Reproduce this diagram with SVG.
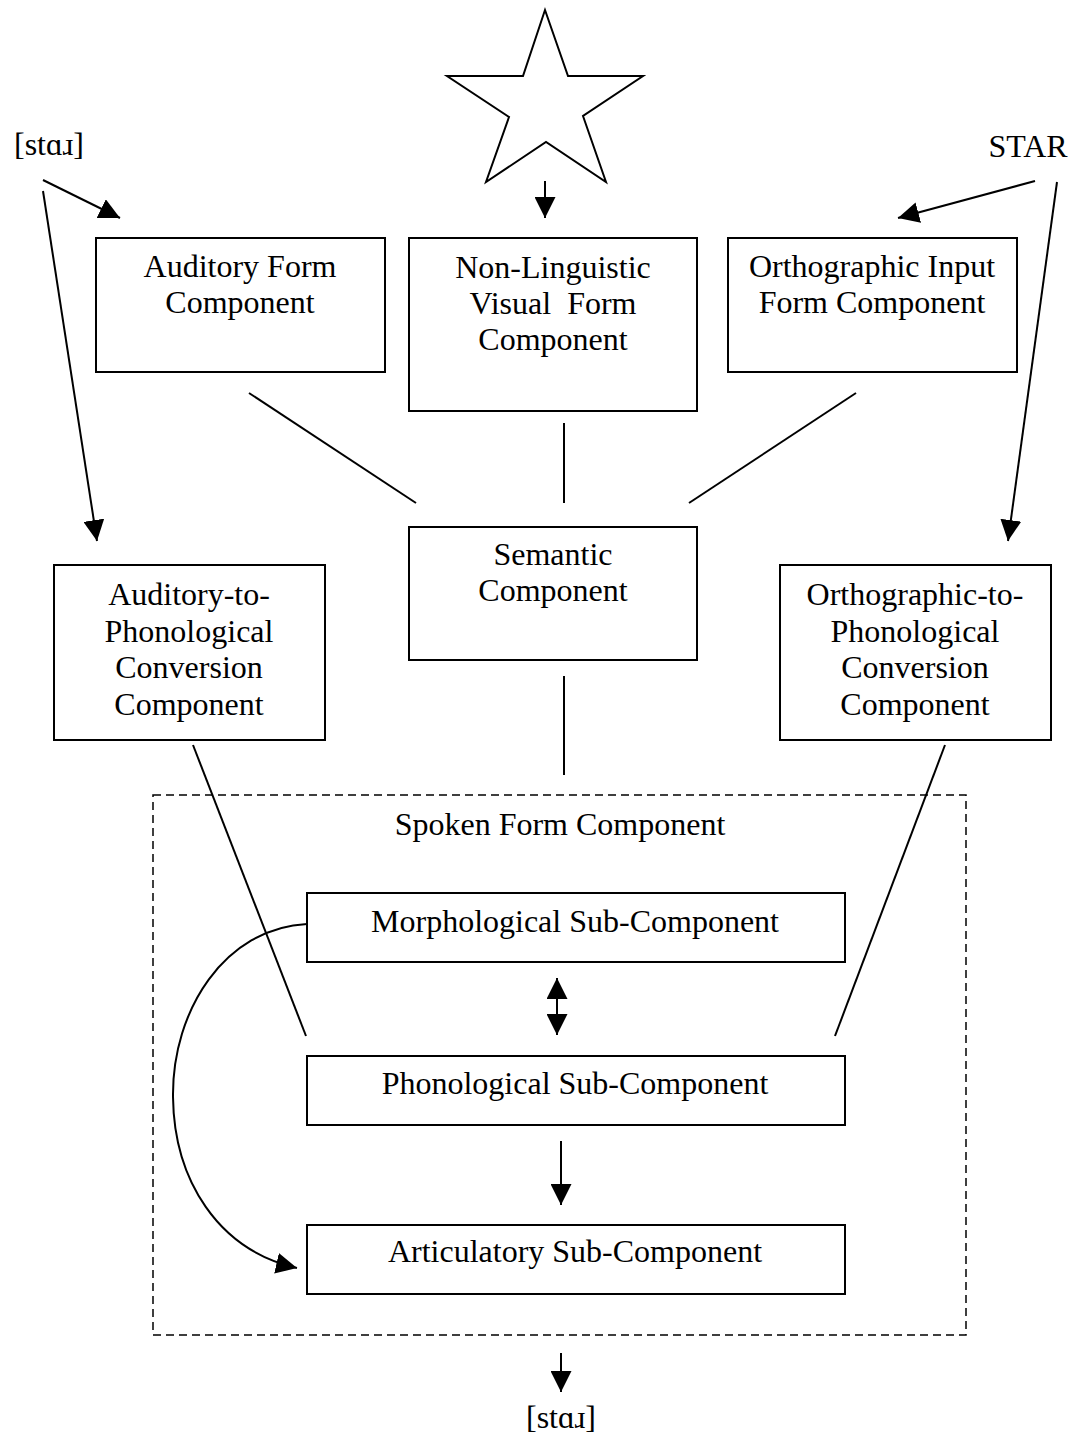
<svg xmlns="http://www.w3.org/2000/svg" width="1078" height="1439" viewBox="0 0 1078 1439">
<style>
text{font-family:"Liberation Serif","Times New Roman",serif;font-size:32px;fill:#000;text-anchor:middle}
.box{fill:#fff;stroke:#000;stroke-width:2}
.ln{fill:none;stroke:#000;stroke-width:2}
.arr{fill:none;stroke:#000;stroke-width:2;marker-end:url(#ah)}
</style>
<defs>
<marker id="ah" viewBox="0 0 20 20" refX="20" refY="10" markerWidth="21" markerHeight="21" markerUnits="userSpaceOnUse" orient="auto-start-reverse">
<path d="M0,0 L20,10 L0,20 z" fill="#000"/>
</marker>
</defs>

<g id="inputs">
<text x="49" y="155">[stɑɹ]</text>
<text x="1028" y="157">STAR</text>
<polygon id="star" points="545,10 568,76 643,76 583,116 606,182 546,142 486,182 509,117 447,76 523,76" fill="#fff" stroke="#000" stroke-width="2"/>
</g>

<g id="connectors">
<line class="arr" x1="43" y1="180" x2="120" y2="218"/>
<line class="arr" x1="43" y1="191" x2="97" y2="541"/>
<line class="arr" x1="1035" y1="181" x2="898" y2="218"/>
<line class="arr" x1="1057" y1="182" x2="1008" y2="541"/>
<line class="arr" x1="545" y1="181" x2="545" y2="218"/>
<line class="ln" x1="249" y1="393" x2="416" y2="503"/>
<line class="ln" x1="564" y1="423" x2="564" y2="503"/>
<line class="ln" x1="856" y1="393" x2="689" y2="503"/>
<line class="ln" x1="564" y1="676" x2="564" y2="775"/>
<line class="ln" x1="193" y1="745" x2="306" y2="1036"/>
<line class="ln" x1="945" y1="745" x2="835" y2="1036"/>
<line class="arr" x1="557" y1="978" x2="557" y2="1035" style="marker-start:url(#ah)"/>
<line class="arr" x1="561" y1="1141" x2="561" y2="1205"/>
<line class="arr" x1="561" y1="1353" x2="561" y2="1392"/>
<path class="arr" d="M307,924 C225,928 172,1010 173,1097 C174,1180 218,1250 297,1268"/>
</g>

<g id="auditory-form">
<rect class="box" x="96" y="238" width="289" height="134"/>
<text x="240" y="277">Auditory Form</text>
<text x="240" y="313">Component</text>
</g>
<g id="nonling-visual">
<rect class="box" x="409" y="238" width="288" height="173"/>
<text x="553" y="278">Non-Linguistic</text>
<text x="553" y="314" xml:space="preserve">Visual  Form</text>
<text x="553" y="350">Component</text>
</g>
<g id="orthographic-input">
<rect class="box" x="728" y="238" width="289" height="134"/>
<text x="872" y="277">Orthographic Input</text>
<text x="872" y="313">Form Component</text>
</g>
<g id="semantic">
<rect class="box" x="409" y="527" width="288" height="133"/>
<text x="553" y="565">Semantic</text>
<text x="553" y="601">Component</text>
</g>
<g id="aud-to-phon">
<rect class="box" x="54" y="565" width="271" height="175"/>
<text x="189" y="605">Auditory-to-</text>
<text x="189" y="642">Phonological</text>
<text x="189" y="678">Conversion</text>
<text x="189" y="715">Component</text>
</g>
<g id="orth-to-phon">
<rect class="box" x="780" y="565" width="271" height="175"/>
<text x="915" y="605">Orthographic-to-</text>
<text x="915" y="642">Phonological</text>
<text x="915" y="678">Conversion</text>
<text x="915" y="715">Component</text>
</g>
<g id="spoken-form">
<rect x="153" y="795" width="813" height="540" fill="none" stroke="#000" stroke-width="1.5" stroke-dasharray="8,5"/>
<text x="560" y="835">Spoken Form Component</text>
</g>
<g id="morphological">
<rect class="box" x="307" y="893" width="538" height="69"/>
<text x="575" y="932">Morphological Sub-Component</text>
</g>
<g id="phonological">
<rect class="box" x="307" y="1056" width="538" height="69"/>
<text x="575" y="1094">Phonological Sub-Component</text>
</g>
<g id="articulatory">
<rect class="box" x="307" y="1225" width="538" height="69"/>
<text x="575" y="1262">Articulatory Sub-Component</text>
</g>
<g id="output">
<text x="561" y="1428">[stɑɹ]</text>
</g>
</svg>
